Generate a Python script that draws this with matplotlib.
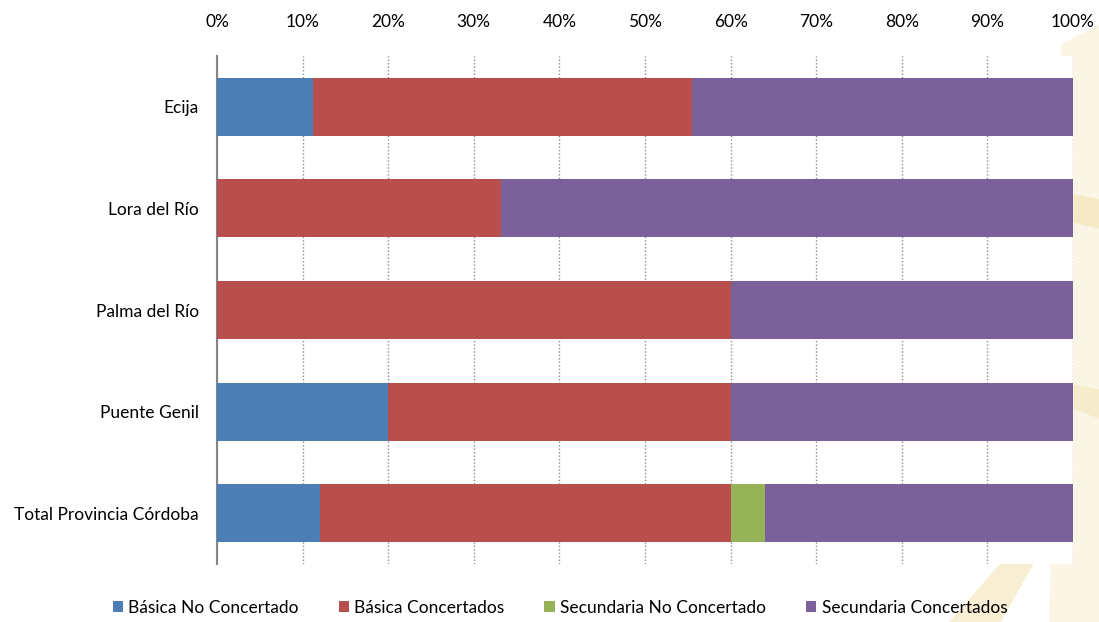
import numpy as np
import matplotlib.pyplot as plt
from matplotlib.patches import Polygon

plt.rcParams['font.family'] = ['Lato', 'DejaVu Sans']

# datos (porcentajes)
zonas = ['Ecija', 'Lora del Río', 'Palma del Río', 'Puente Genil', 'Total Provincia Córdoba']
basica_no_conc = [11.2, 0, 0, 20, 12]
basica_conc = [44.3, 33.2, 60, 40, 48]
secundaria_no_conc = [0, 0, 0, 0, 4]
secundaria_conc = [44.5, 66.8, 40, 40, 36]

series = [basica_no_conc, basica_conc, secundaria_no_conc, secundaria_conc]
nombres = ['Básica No Concertado', 'Básica Concertados', 'Secundaria No Concertado', 'Secundaria Concertados']
colores = ['#4d7db5', '#b94f4c', '#97b358', '#7b619a']

W, H = 1099, 622
fig = plt.figure(figsize=(W/100, H/100), dpi=100)

# marca de agua tenue a la derecha (detrás de los ejes)
def px(pts):
    return [(x/W, 1 - y/H) for x, y in pts]
formas = [
    ([(1062, 45), (1099, 25), (1099, 622), (1050, 622)], '#fbf5e6'),
    ([(950, 622), (1000, 565), (1035, 560), (1000, 622)], '#f8eed3'),
    ([(1074, 195), (1099, 200), (1099, 228), (1074, 222)], '#f5e9c6'),
    ([(1074, 385), (1099, 390), (1099, 418), (1074, 408)], '#f6ebcb'),
]
for pts, c in formas:
    fig.patches.append(Polygon(px(pts), transform=fig.transFigure, color=c, zorder=-1))

ax = fig.add_axes([217/W, 1 - 564/H, (1073-217)/W, (564-56)/H])
ax.set_facecolor('white')

y = np.arange(len(zonas))
izq = np.zeros(len(zonas))
for vals, nom, col in zip(series, nombres, colores):
    vals = np.array(vals, dtype=float)
    ax.barh(y, vals, left=izq, height=0.57, color=col, label=nom, zorder=3)
    izq += vals

ax.set_xlim(0, 100)
ax.set_ylim(len(zonas) - 0.5, -0.5)
ax.set_yticks(y)
ax.set_yticklabels(zonas, fontsize=12.5)
ax.set_xticks(np.arange(0, 101, 10))
ax.set_xticklabels([f'{v}%' for v in range(0, 101, 10)], fontsize=12.5)
ax.xaxis.tick_top()
ax.tick_params(axis='y', length=0, pad=13)
ax.tick_params(axis='x', length=0, pad=19)
ax.grid(axis='x', linestyle=(0, (1, 1.5)), color='#8c8c8c', linewidth=1, zorder=0)
for s in ['top', 'right', 'bottom']:
    ax.spines[s].set_visible(False)
ax.spines['left'].set_color('#868686')
ax.spines['left'].set_linewidth(1.5)

fig.legend(loc='center', bbox_to_anchor=(560/W, 1 - 608/H), ncol=4, frameon=False,
           fontsize=12.5, handlelength=0.6, handleheight=0.6, handletextpad=0.3, columnspacing=2.3)

fig.savefig('out.png', dpi=100)
